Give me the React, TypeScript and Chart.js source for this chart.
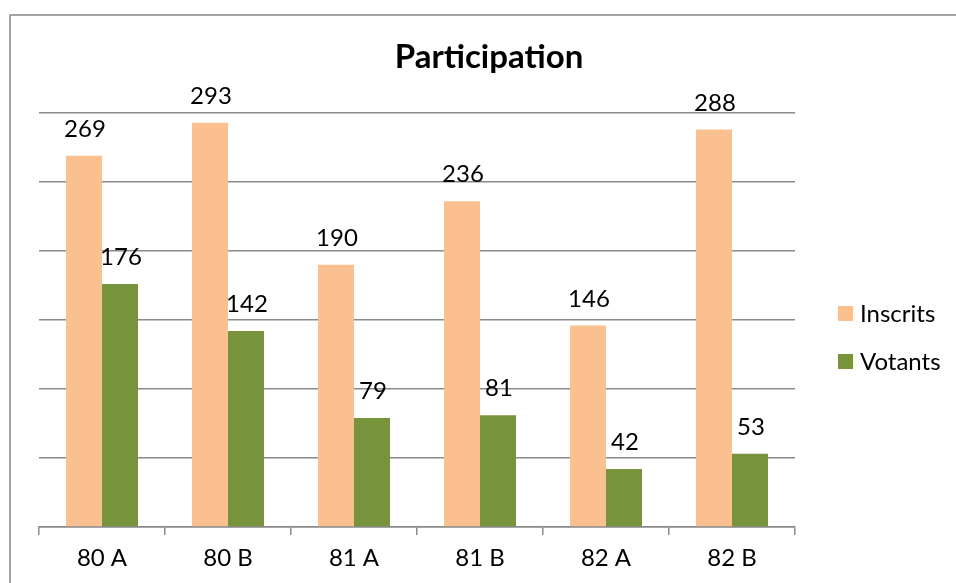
import React, { useEffect, useRef } from "react";
import { Chart, registerables } from "chart.js";

Chart.register(...registerables);

const categories = ["80 A", "80 B", "81 A", "81 B", "82 A", "82 B"];
const inscrits = [269, 293, 190, 236, 146, 288];
const votants = [176, 142, 79, 81, 42, 53];
const seriesNames = ["Inscrits", "Votants"];
const seriesColors = ["#FAC090", "#77933C"];
const chartTitle = "Participation";

const FONT = "Lato, 'Open Sans', sans-serif";
const GRID = "#8a8a8a";

const decorPlugin = {
  id: "decor",
  afterDatasetsDraw(chart: any) {
    const ctx = chart.ctx;
    ctx.save();
    ctx.fillStyle = "#000";
    ctx.font = `24px ${FONT}`;
    ctx.textAlign = "center";
    ctx.textBaseline = "alphabetic";
    chart.data.datasets.forEach((ds: any, i: number) => {
      const meta = chart.getDatasetMeta(i);
      meta.data.forEach((bar: any, j: number) => {
        ctx.fillText(String(ds.data[j]), bar.x + 1, bar.y - 19);
      });
    });
    ctx.restore();
  },
  afterDraw(chart: any) {
    const ctx = chart.ctx;
    ctx.save();
    // frame
    ctx.strokeStyle = "#888";
    ctx.lineWidth = 1.5;
    ctx.strokeRect(10, 15, 1200, 1200);
    // title
    ctx.fillStyle = "#000";
    ctx.font = `bold 33px ${FONT}`;
    ctx.textAlign = "center";
    ctx.textBaseline = "alphabetic";
    ctx.fillText(chartTitle, 489, 68);
    // legend
    ctx.font = `24px ${FONT}`;
    ctx.textAlign = "left";
    chart.data.datasets.forEach((ds: any, i: number) => {
      const y = 306 + i * 48;
      ctx.fillStyle = ds.backgroundColor;
      ctx.fillRect(838, y, 15, 15);
      ctx.fillStyle = "#000";
      ctx.fillText(ds.label, 860, y + 16);
    });
    ctx.restore();
  },
};

export default function App() {
  const ref = useRef<HTMLCanvasElement | null>(null);
  useEffect(() => {
    if (!ref.current) return;
    const chart = new Chart(ref.current, {
      type: "bar",
      data: {
        labels: categories,
        datasets: [
          { label: seriesNames[0], data: inscrits, backgroundColor: seriesColors[0] },
          { label: seriesNames[1], data: votants, backgroundColor: seriesColors[1] },
        ],
      },
      options: {
        responsive: false,
        animation: false,
        layout: { padding: { left: 39, right: 161, top: 113, bottom: 0 } },
        datasets: { bar: { categoryPercentage: 0.5714, barPercentage: 1 } },
        plugins: {
          legend: { display: false },
          title: { display: false },
          tooltip: { enabled: false },
        },
        scales: {
          x: {
            afterFit: (s: any) => { s.height = 56; },
            grid: {
              offset: true,
              drawOnChartArea: false,
              drawTicks: true,
              tickLength: 8,
              color: GRID,
              lineWidth: 1.5,
            },
            border: { display: true, color: GRID, width: 1.5 },
            ticks: {
              color: "#000",
              font: { family: FONT, size: 24 },
              padding: 9,
            },
          },
          y: {
            min: 0,
            max: 300,
            afterFit: (s: any) => { s.width = 0; },
            ticks: { display: false, stepSize: 50 },
            grid: { color: GRID, lineWidth: 1.5, drawTicks: false },
            border: { display: false },
          },
        },
      },
      plugins: [decorPlugin],
    } as any);
    return () => chart.destroy();
  }, []);
  return (
    <div style={{ position: "fixed", left: 0, top: 0, width: 956, height: 583, background: "#fff" }}>
      <canvas ref={ref} width={956} height={583} />
    </div>
  );
}
